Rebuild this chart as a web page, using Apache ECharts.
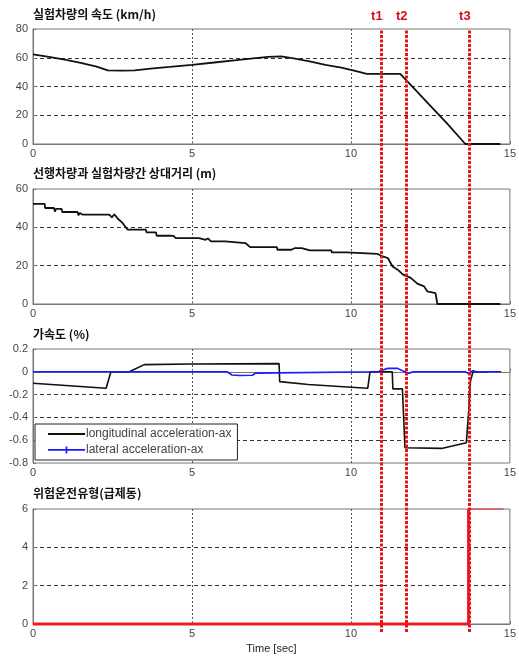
<!DOCTYPE html>
<html>
<head>
<meta charset="utf-8">
<script src="https://cdn.jsdelivr.net/npm/echarts@6/dist/echarts.min.js"></script>
<style>
  html, body { margin: 0; padding: 0; background: #fff; }
  #chart { width: 519px; height: 656px; }
</style>
</head>
<body>
<div id="chart"></div>
<script>
// ---------- data ----------
const panelTitles = ['실험차량의 속도 (km/h)', '선행차량과 실험차량간 상대거리 (m)', '가속도 (%)', '위험운전유형(급제동)'];
const xTickInterval = 5;

const speedTime  = [0, 0.5, 1.0, 1.5, 2.0, 2.35, 2.8, 3.2, 3.7, 4.3, 5.0, 5.7, 6.4, 7.0, 7.4, 7.8, 8.2, 8.7, 9.2, 9.7, 10.1, 10.5, 11.55, 12.0, 12.5, 13.0, 13.6, 14.7];
const speedValue = [62.3, 60.6, 58.7, 56.5, 53.8, 51.2, 51.0, 51.2, 52.5, 53.6, 55.1, 56.7, 58.3, 59.8, 60.6, 61.0, 59.6, 57.4, 55.0, 53.2, 51.0, 48.8, 48.8, 38.3, 26.6, 14.9, 0, 0];

const distTime  = [0, 0.37, 0.38, 0.66, 0.69, 0.72, 0.9, 0.92, 1.4, 1.43, 1.47, 1.57, 2.4, 2.48, 2.56, 2.66, 2.8, 2.9, 2.98, 3.55, 3.57, 3.87, 3.89, 4.3, 4.36, 4.42, 4.49, 5.22, 5.24, 5.43, 5.5, 5.6, 6.05, 6.07, 6.68, 6.83, 7.67, 7.69, 8.13, 8.24, 8.45, 8.71, 9.38, 9.4, 9.85, 9.87, 10.84, 11.0, 11.16, 11.31, 11.47, 11.64, 11.88, 12.09, 12.3, 12.4, 12.66, 12.72, 14.7];
const distValue = [52.2, 52.2, 50.1, 50.1, 48.2, 49.6, 49.6, 48.0, 48.0, 46.3, 47.5, 46.6, 46.6, 45.2, 46.8, 44.6, 42.6, 40.4, 38.8, 38.8, 37.4, 37.4, 35.6, 35.6, 34.8, 35.5, 34.4, 34.4, 33.5, 33.5, 34.2, 32.7, 32.7, 31.8, 31.8, 29.7, 29.7, 28.3, 28.3, 29.2, 29.2, 28.0, 28.0, 26.9, 26.9, 26.1, 26.1, 24.8, 24.0, 19.6, 17.9, 15.3, 13.6, 10.6, 9.2, 6.6, 5.7, 0, 0];

const longTime  = [0, 2.3, 2.45, 3.03, 3.5, 5.0, 7.74, 7.76, 8.66, 10.01, 10.53, 10.6, 11.3, 11.32, 11.62, 11.7, 12.85, 13.63, 13.7, 13.76, 13.84, 14.3];
const longValue = [-0.10, -0.144, 0, 0, 0.063, 0.068, 0.072, -0.086, -0.112, -0.135, -0.144, 0, 0, -0.15, -0.15, -0.666, -0.672, -0.623, -0.365, -0.08, 0, 0];

const latTime  = [0, 6.1, 6.26, 6.5, 6.9, 7.0, 7.06, 10.84, 11.0, 11.16, 11.47, 11.62, 11.83, 11.95, 13.6, 13.68, 13.84, 13.95, 14.73];
const latValue = [0, 0, -0.028, -0.032, -0.03, -0.012, 0, 0, 0.015, 0.03, 0.03, 0.01, -0.013, 0, 0, -0.014, 0.01, 0, 0];

const typeLowTime   = [0, 13.7, 13.7];
const typeLowValue  = [0, 0, 6];
const typeHighTime  = [13.7, 14.8];
const typeHighValue = [6, 6];

const eventNames = ['t1', 't2', 't3'];
const eventTimes = [10.87, 11.65, 13.62];

const legendNames = ['longitudinal acceleration-ax', 'lateral acceleration-ax'];

const yRanges = [
  { min: 0, max: 80, interval: 20 },
  { min: 0, max: 60, interval: 20 },
  { min: -0.8, max: 0.2, interval: 0.2 },
  { min: 0, max: 6, interval: 2 }
];

// ---------- layout ----------
const LEFT = 33, RIGHT = 6;
const gridTops = [29, 189, 349, 509];
const gridHeights = [115, 115, 114, 115];
const titleTops = [8, 167, 328, 487];

const zip = (a, b) => a.map((v, i) => [v, b[i]]);
const FONT = 'Liberation Sans, Arial, sans-serif';

const grids = gridTops.map((t, i) => ({
  left: LEFT, right: RIGHT, top: t, height: gridHeights[i],
  show: true, borderColor: '#777', borderWidth: 1, backgroundColor: 'transparent'
}));
grids.push({ left: LEFT, right: RIGHT, top: 29, height: 603 });

const xAxes = gridTops.map((t, i) => ({
  type: 'value', gridIndex: i, min: 0, max: 15, interval: xTickInterval,
  axisLine: { show: true, lineStyle: { color: '#777', width: 1 } },
  axisTick: { show: true, inside: true, length: 3, lineStyle: { color: '#777' } },
  axisLabel: { color: '#444', fontSize: 11, fontFamily: FONT, margin: 4 },
  splitLine: { show: true, showMinLine: false, showMaxLine: false,
    lineStyle: { color: '#555', type: [2, 2], width: 1 } },
  name: i === 3 ? 'Time [sec]' : '',
  nameLocation: 'middle', nameGap: 19,
  nameTextStyle: { color: '#222', fontSize: 11, fontFamily: FONT }
}));
xAxes.push({ type: 'value', gridIndex: 4, min: 0, max: 15, show: false });

const yAxes = yRanges.map((r, i) => ({
  type: 'value', gridIndex: i, min: r.min, max: r.max, interval: r.interval,
  axisLine: { show: true, lineStyle: { color: '#777', width: 1 } },
  axisTick: { show: true, inside: true, length: 3, lineStyle: { color: '#777' } },
  axisLabel: { color: '#444', fontSize: 11, fontFamily: FONT, margin: 5,
    formatter: v => String(Math.round(v * 10) / 10) },
  splitLine: { show: true, showMinLine: false, showMaxLine: false,
    lineStyle: { color: '#333', type: [4, 3], width: 1 } }
}));
yAxes.push({ type: 'value', gridIndex: 4, min: 0, max: 1, show: false });

const lineBase = { type: 'line', symbol: 'none', clip: false, animation: false, silent: true };

const series = [
  Object.assign({}, lineBase, { name: 'speed', xAxisIndex: 0, yAxisIndex: 0,
    data: zip(speedTime, speedValue), lineStyle: { color: '#111', width: 1.8 } }),
  Object.assign({}, lineBase, { name: 'distance', xAxisIndex: 1, yAxisIndex: 1,
    data: zip(distTime, distValue), lineStyle: { color: '#111', width: 1.8 } }),
  Object.assign({}, lineBase, { name: legendNames[0], xAxisIndex: 2, yAxisIndex: 2,
    data: zip(longTime, longValue), lineStyle: { color: '#111', width: 1.6 }, itemStyle: { color: '#111' } }),
  Object.assign({}, lineBase, { name: legendNames[1], xAxisIndex: 2, yAxisIndex: 2,
    data: zip(latTime, latValue), lineStyle: { color: '#1a1aff', width: 1.6 }, itemStyle: { color: '#1a1aff' } }),
  Object.assign({}, lineBase, { name: 'typeLow', xAxisIndex: 3, yAxisIndex: 3,
    data: zip(typeLowTime, typeLowValue), lineStyle: { color: '#ee1c1c', width: 3 } }),
  Object.assign({}, lineBase, { name: 'typeHigh', xAxisIndex: 3, yAxisIndex: 3,
    data: zip(typeHighTime, typeHighValue), lineStyle: { color: '#ee1c1c', width: 1 } }),
  Object.assign({}, lineBase, { name: 'events', xAxisIndex: 4, yAxisIndex: 4, z: 10,
    data: [],
    markLine: {
      silent: true, symbol: 'none', animation: false,
      lineStyle: { color: '#e8141c', width: 3, type: [3, 1.5] },
      label: { show: true, position: 'end', distance: 6, formatter: p => p.name,
        color: '#d0101a', fontSize: 13, fontWeight: 'bold', fontFamily: FONT, offset: [-4, 0] },
      data: eventTimes.map((t, i) => ({ name: eventNames[i], xAxis: t }))
    } })
];

const option = {
  backgroundColor: '#fff',
  animation: false,
  title: panelTitles.map((t, i) => ({
    text: t, left: LEFT, top: titleTops[i], padding: 0,
    textStyle: { fontSize: 12, fontWeight: 'bold', color: '#111', fontFamily: 'Noto Sans CJK KR, sans-serif' }
  })),
  legend: {
    data: [
      { name: legendNames[0], icon: 'path://M0,3.2h30v1.8h-30z' },
      { name: legendNames[1], icon: 'path://M0,3.3h30v1.5h-30zM14.3,1.2h1.4v5.8h-1.4z' }
    ],
    left: 35, top: 424, orient: 'vertical',
    borderColor: '#222', borderWidth: 1, padding: [4, 6, 4, 13],
    itemWidth: 37, itemHeight: 8, itemGap: 4,
    textStyle: { fontSize: 12, color: '#444', fontFamily: FONT, padding: [0, 0, 0, -4] },
    selectedMode: false, backgroundColor: '#fff'
  },
  grid: grids,
  xAxis: xAxes,
  yAxis: yAxes,
  series: series
};

const chart = echarts.init(document.getElementById('chart'));
chart.setOption(option);
</script>
</body>
</html>
